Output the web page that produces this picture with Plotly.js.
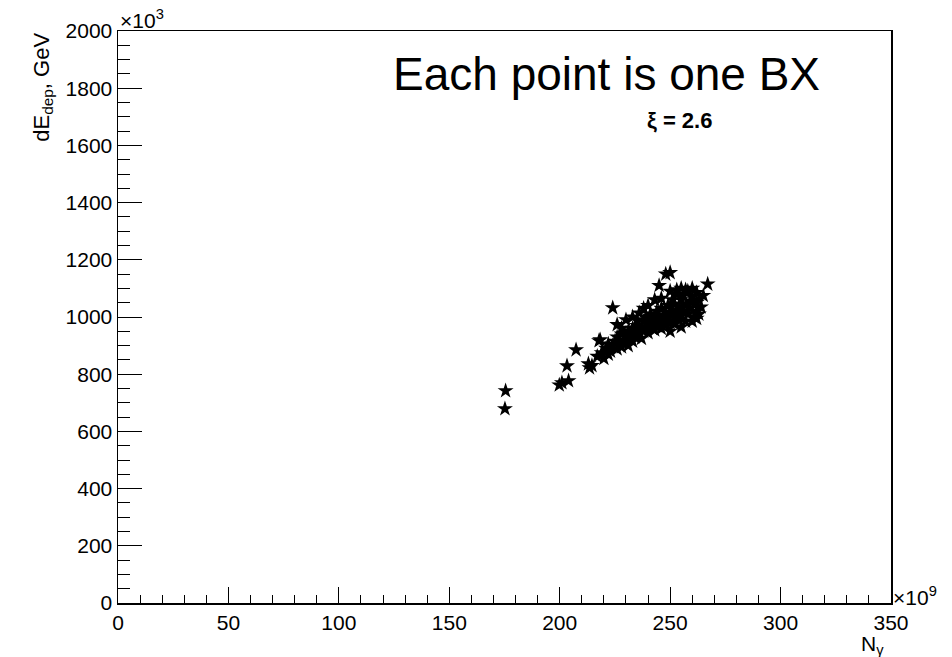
<!DOCTYPE html>
<html>
<head>
<meta charset="utf-8">
<script src="https://cdn.plot.ly/plotly-3.0.1.min.js"></script>
<style>html,body{margin:0;padding:0;background:#fff;}#chart{width:952px;height:657px;}</style>
</head>
<body>
<div id="chart"></div>
<script>
// N_gamma in units of 1e9
const nGamma = [175.5,175.2,199.8,201,204,203.3,207.4,213.5,213,214.6,217.8,218.3,
217,219,220,221,222,222,223,224,224,225,226,226,227,228,228,229,230,230,231,231,232,233,233,234,234,235,235,236,236,237,237,238,238,239,239,240,240,241,241,242,242,243,243,244,244,245,245,245,246,246,247,247,248,248,248,249,249,250,250,250,251,251,252,252,252,253,253,254,254,255,255,255,256,256,257,257,258,258,259,259,260,260,261,261,262,262,263,263,264,265,267,262,
226,230,233,240,243,250,253,250,255,260,262,238,246,257,228,235];
// dE_dep in units of 1e3 GeV
const eDep = [742,679,762,770,777,829,885,822,836,830,917,920,
862,875,855,890,870,905,880,1032,900,915,888,930,905,895,940,920,910,935,900,950,925,960,915,945,930,970,955,1014,940,925,965,985,950,960,1000,975,945,990,1010,960,980,1000,955,1020,970,1110,990,1005,960,1030,980,1000,1150,1015,970,1040,995,1155,1010,980,1060,1025,1000,975,1045,1080,1015,990,1035,1100,1060,1005,1020,1075,985,1040,1090,1010,1055,1030,1100,1070,1000,1045,1085,1020,1060,1010,1035,1075,1115,1050,
973,990,1000,1040,1060,1090,1095,950,965,985,995,1030,1065,1095,960,990];

const xTickVals = [0,50,100,150,200,250,300,350];
const xTickText = ["0","50","100","150","200","250","300","350"];
const yTickVals = [0,200,400,600,800,1000,1200,1400,1600,1800,2000];
const yTickText = ["0","200","400","600","800","1000","1200","1400","1600","1800","2000"];

const font = "Liberation Sans, Arial, Helvetica, sans-serif";

const trace = {
  x: nGamma, y: eDep, type: "scatter", mode: "markers",
  marker: {symbol: "star", size: 12, color: "#000"},
  hoverinfo: "skip"
};

const layout = {
  width: 952, height: 657,
  margin: {l: 118, r: 61, t: 31, b: 54},
  paper_bgcolor: "#fff", plot_bgcolor: "#fff",
  showlegend: false,
  font: {family: font, color: "#000", size: 21},
  xaxis: {
    range: [0, 350], tickvals: xTickVals, ticktext: xTickText,
    ticks: "inside", ticklen: 16, tickwidth: 1, tickcolor: "#000",
    minor: {dtick: 10, tick0: 0, ticks: "inside", ticklen: 8, tickwidth: 1, tickcolor: "#000", showgrid: false},
    showline: true, linecolor: "#000", linewidth: 1.5, mirror: true,
    showgrid: false, zeroline: false,
    tickfont: {family: font, size: 21, color: "#000"}
  },
  yaxis: {
    range: [0, 2000], tickvals: yTickVals, ticktext: yTickText,
    ticks: "inside", ticklen: 24, tickwidth: 1, tickcolor: "#000",
    minor: {dtick: 50, tick0: 0, ticks: "inside", ticklen: 12, tickwidth: 1, tickcolor: "#000", showgrid: false},
    showline: true, linecolor: "#000", linewidth: 1.5, mirror: true,
    showgrid: false, zeroline: false,
    tickfont: {family: font, size: 21, color: "#000"}
  },
  annotations: [
    {text: "Each point is one BX", xref: "paper", yref: "paper", x: 0.632, y: 0.924, xanchor: "center", yanchor: "middle", showarrow: false, font: {family: font, size: 46, color: "#000"}},
    {text: "<b>ξ = 2.6</b>", xref: "paper", yref: "paper", x: 0.727, y: 0.843, xanchor: "center", yanchor: "middle", showarrow: false, font: {family: font, size: 22, color: "#000"}},
    {text: "dE<sub>dep</sub>, GeV", xref: "paper", yref: "paper", x: -0.098, y: 1.0, xanchor: "center", yanchor: "top", textangle: -90, showarrow: false, font: {family: font, size: 22, color: "#000"}},
    {text: "N<sub>γ</sub>", xref: "paper", yref: "paper", x: 0.976, y: -0.048, xanchor: "center", yanchor: "top", showarrow: false, font: {family: font, size: 21, color: "#000"}},
    {text: "×10<sup>3</sup>", xref: "paper", yref: "paper", x: 0.0, y: 1.0, xanchor: "left", yanchor: "bottom", yshift: -3, showarrow: false, font: {family: font, size: 21, color: "#000"}},
    {text: "×10<sup>9</sup>", xref: "paper", yref: "paper", x: 1.0, y: 0.0, xanchor: "left", yanchor: "bottom", yshift: -8, showarrow: false, font: {family: font, size: 21, color: "#000"}}
  ]
};

Plotly.newPlot("chart", [trace], layout, {displayModeBar: false, staticPlot: true});
</script>
</body>
</html>
